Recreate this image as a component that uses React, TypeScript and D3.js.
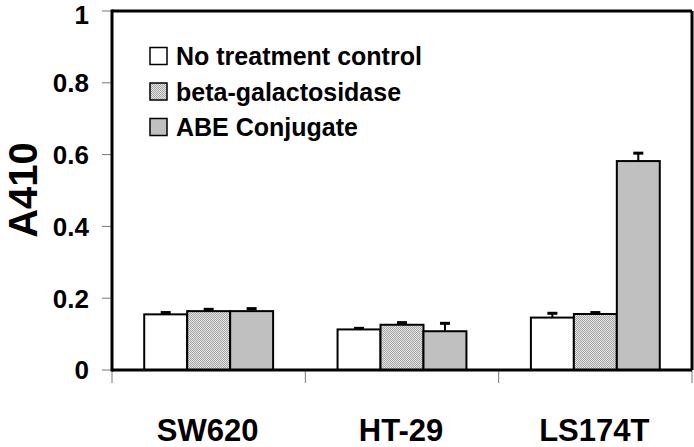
import React from "react";
import * as d3 from "d3";

const categories = ["SW620", "HT-29", "LS174T"];
const seriesNames = ["No treatment control", "beta-galactosidase", "ABE Conjugate"];
const noTreatment = [0.155, 0.113, 0.146];
const betaGal = [0.164, 0.126, 0.156];
const abeConj = [0.164, 0.108, 0.582];
const noTreatmentErr = [0.005, 0.003, 0.012];
const betaGalErr = [0.005, 0.006, 0.004];
const abeConjErr = [0.007, 0.022, 0.022];
const yTicks = [0, 0.2, 0.4, 0.6, 0.8, 1];

const W = 694;
const H = 447;
const left = 112;
const right = 692;
const top = 11;
const bottom = 370;
const FONT = "'Liberation Sans', Arial, Helvetica, sans-serif";

export default function App() {
  const x = d3.scaleBand<string>().domain(categories).range([left, right]).padding(0);
  const xi = d3
    .scaleBand<string>()
    .domain(seriesNames)
    .range([0, x.bandwidth()])
    .paddingInner(0)
    .paddingOuter(0.75);
  const y = d3.scaleLinear().domain([0, 1]).range([bottom, top]);

  const values = [noTreatment, betaGal, abeConj];
  const errs = [noTreatmentErr, betaGalErr, abeConjErr];
  const fills = ["#ffffff", "url(#hatch)", "#c0c0c0"];

  const boundaries = [0, 1, 2, 3].map((i) => left + i * x.step());

  return (
    <svg
      width={W}
      height={H}
      style={{ position: "absolute", left: 0, top: 0, background: "#fff" }}
      fontFamily={FONT}
      fontWeight="bold"
    >
      <defs>
        <pattern id="hatch" width="2" height="2" patternUnits="userSpaceOnUse">
          <rect width="2" height="2" fill="#e2e2e2" />
          <rect width="1" height="1" fill="#a8a8a8" />
          <rect x="1" y="1" width="1" height="1" fill="#a8a8a8" />
        </pattern>
      </defs>
      <rect width={W} height={H} fill="#fff" />

      {/* y ticks */}
      {yTicks.map((t) => (
        <g key={t}>
          <line x1={left - 10} x2={left} y1={y(t)} y2={y(t)} stroke="#777" strokeWidth={1} />
          <text x={89} y={Math.max(y(t) + 9.4, 24)} textAnchor="end" fontSize={26} fill="#000">
            {d3.format("~g")(t)}
          </text>
        </g>
      ))}

      {/* x ticks */}
      {boundaries.map((b, i) => (
        <line key={i} x1={b} x2={b} y1={bottom} y2={bottom + 13} stroke="#777" strokeWidth={1} />
      ))}

      {/* bars */}
      {categories.map((c, ci) =>
        seriesNames.map((s, si) => {
          const v = values[si][ci];
          const e = errs[si][ci];
          const bx = (x(c) as number) + (xi(s) as number);
          const bw = xi.bandwidth();
          const cx = bx + bw / 2;
          return (
            <g key={c + s}>
              <line x1={cx} x2={cx} y1={y(v)} y2={y(v + e)} stroke="#000" strokeWidth={2} />
              <line x1={cx - 5} x2={cx + 5} y1={y(v + e)} y2={y(v + e)} stroke="#000" strokeWidth={3} />
              <rect x={bx} y={y(v)} width={bw} height={y(0) - y(v)} fill={fills[si]} stroke="#000" strokeWidth={2} />
            </g>
          );
        })
      )}

      {/* frame */}
      <line x1={left} x2={right} y1={top} y2={top} stroke="#000" strokeWidth={3} />
      <line x1={right} x2={right} y1={top} y2={bottom} stroke="#000" strokeWidth={3} />
      <line x1={left} x2={left} y1={top - 1.5} y2={bottom + 1.5} stroke="#000" strokeWidth={3} />
      <line x1={left} x2={right} y1={bottom} y2={bottom} stroke="#000" strokeWidth={3} />

      {/* category labels */}
      {categories.map((c) => (
        <text key={c} x={(x(c) as number) + x.bandwidth() / 2 - 1} y={441} textAnchor="middle" fontSize={31} fill="#000">
          {c}
        </text>
      ))}

      {/* y title */}
      <text transform={`translate(37,190) rotate(-90)`} textAnchor="middle" fontSize={40} fill="#000">
        A410
      </text>

      {/* legend */}
      {seriesNames.map((s, i) => {
        const cy = 56 + i * 35.5;
        return (
          <g key={s}>
            <rect x={150} y={cy - 8.5} width={17} height={17} fill={fills[i]} stroke="#000" strokeWidth={1.5} />
            <text x={176} y={cy} dy="0.36em" fontSize={25} fill="#000">
              {s}
            </text>
          </g>
        );
      })}
    </svg>
  );
}
